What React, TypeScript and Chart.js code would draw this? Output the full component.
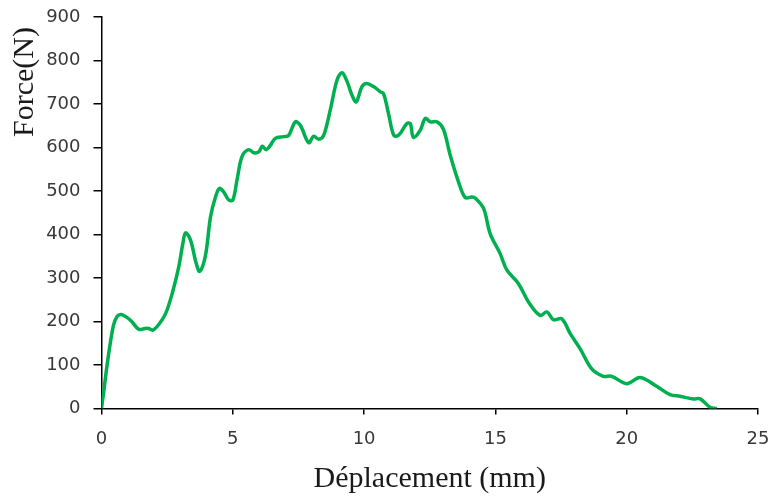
import React, { useEffect, useRef } from "react";
import { Chart, registerables } from "chart.js";

Chart.register(...registerables);

const displacement: number[] = [
  0, 0.09, 0.22, 0.45, 0.6, 0.75, 0.95, 1.15, 1.42, 1.65, 1.8, 1.95, 2.18, 2.44, 2.69, 2.94,
  3.1, 3.2, 3.39, 3.6, 3.74, 3.96, 4.15, 4.34, 4.49, 4.65, 4.84, 5.0, 5.16, 5.35, 5.6, 5.8,
  5.99, 6.12, 6.27, 6.43, 6.62, 6.94, 7.13, 7.38, 7.57, 7.89, 8.08, 8.27, 8.46, 8.71, 8.97,
  9.16, 9.35, 9.54, 9.7, 9.92, 10.1, 10.36, 10.62, 10.74, 10.93, 11.13, 11.31, 11.63, 11.76,
  11.88, 12.14, 12.33, 12.52, 12.77, 13.02, 13.28, 13.6, 13.85, 14.1, 14.23, 14.55, 14.8,
  15.18, 15.44, 15.88, 16.26, 16.7, 16.96, 17.21, 17.53, 17.85, 18.23, 18.67, 19.11, 19.43,
  20.0, 20.51, 21.14, 21.65, 22.03, 22.54, 22.8, 23.17, 23.43,
];

const force: number[] = [
  0, 41, 103, 190, 212, 216, 210, 200, 182, 184, 184, 180, 193, 218, 264, 325,
  380, 404, 387, 335, 315, 352, 440, 486, 506, 498, 480, 479, 525, 579, 595, 588,
  590, 603, 595, 605, 621, 625, 628, 659, 651, 611, 626, 619, 628, 686, 755,
  772, 752, 720, 705, 740, 747, 740, 728, 724, 678, 628, 628, 655, 655,
  623, 640, 667, 659, 659, 642, 582, 520, 485, 486, 484, 460, 402,
  356, 318, 287, 245, 214, 222, 204, 206, 172, 137, 91, 74, 74,
  57, 71, 51, 32, 28, 22, 22, 3, 0,
];

const xTicks: number[] = [0, 5, 10, 15, 20, 25];
const yTicks: number[] = [0, 100, 200, 300, 400, 500, 600, 700, 800, 900];
const xTitle = "Déplacement (mm)";
const yTitle = "Force(N)";

const yTitlePlugin = {
  id: "yTitlePlugin",
  afterDraw(chart: any) {
    const { ctx, chartArea } = chart;
    ctx.save();
    ctx.translate(chartArea.left - 76.5, chartArea.top + 10);
    ctx.rotate(-Math.PI / 2);
    ctx.textAlign = "right";
    ctx.textBaseline = "middle";
    ctx.fillStyle = "#1a1a1a";
    ctx.font = '30px "Liberation Serif"';
    ctx.fillText(yTitle, 0, 0);
    ctx.restore();
  },
};

export default function App() {
  const ref = useRef<HTMLCanvasElement | null>(null);

  useEffect(() => {
    if (!ref.current) return;
    const points = displacement.map((x, i) => ({ x, y: force[i] }));
    const chart = new Chart(ref.current, {
      type: "line",
      data: {
        datasets: [
          {
            data: points,
            borderColor: "#00b050",
            borderWidth: 3.5,
            pointRadius: 0,
            tension: 0.35,
            fill: false,
          },
        ],
      },
      options: {
        animation: false,
        responsive: false,
        maintainAspectRatio: false,
        layout: { padding: { top: 17, right: 16, left: 0, bottom: 0 } },
        plugins: { legend: { display: false }, tooltip: { enabled: false } },
        scales: {
          x: {
            type: "linear",
            min: xTicks[0],
            max: xTicks[xTicks.length - 1],
            afterBuildTicks: (s: any) => {
              s.ticks = xTicks.map((v) => ({ value: v }));
            },
            afterFit: (s: any) => {
              s.height = 88.5;
              s.paddingLeft = 0;
              s.paddingRight = 0;
            },
            ticks: {
              color: "#383838",
              font: { family: "DejaVu Sans", size: 18 },
              padding: 14,
              maxRotation: 0,
            },
            grid: {
              display: true,
              drawOnChartArea: false,
              drawTicks: true,
              tickLength: 6,
              color: "#000",
              lineWidth: 1.5,
            },
            border: { display: true, color: "#000", width: 1.5 },
            title: {
              display: true,
              text: xTitle,
              color: "#1a1a1a",
              font: { family: "Liberation Serif", size: 30 },
              padding: { top: 0, bottom: 0 },
            },
          },
          y: {
            type: "linear",
            min: yTicks[0],
            max: yTicks[yTicks.length - 1],
            afterBuildTicks: (s: any) => {
              s.ticks = yTicks.map((v) => ({ value: v }));
            },
            afterFit: (s: any) => {
              s.width = 101.5;
              s.paddingTop = 0;
              s.paddingBottom = 0;
            },
            ticks: {
              color: "#383838",
              font: { family: "DejaVu Sans", size: 18 },
              padding: 13,
            },
            grid: {
              display: true,
              drawOnChartArea: false,
              drawTicks: true,
              tickLength: 8,
              color: "#000",
              lineWidth: 1.5,
            },
            border: { display: true, color: "#000", width: 1.5 },
            title: { display: false },
          },
        },
      },
      plugins: [yTitlePlugin],
    });
    return () => chart.destroy();
  }, []);

  return (
    <div style={{ position: "absolute", left: 0, top: 0, width: 774, height: 497, background: "#fff" }}>
      <canvas ref={ref} width={774} height={497} style={{ width: 774, height: 497 }} />
    </div>
  );
}
